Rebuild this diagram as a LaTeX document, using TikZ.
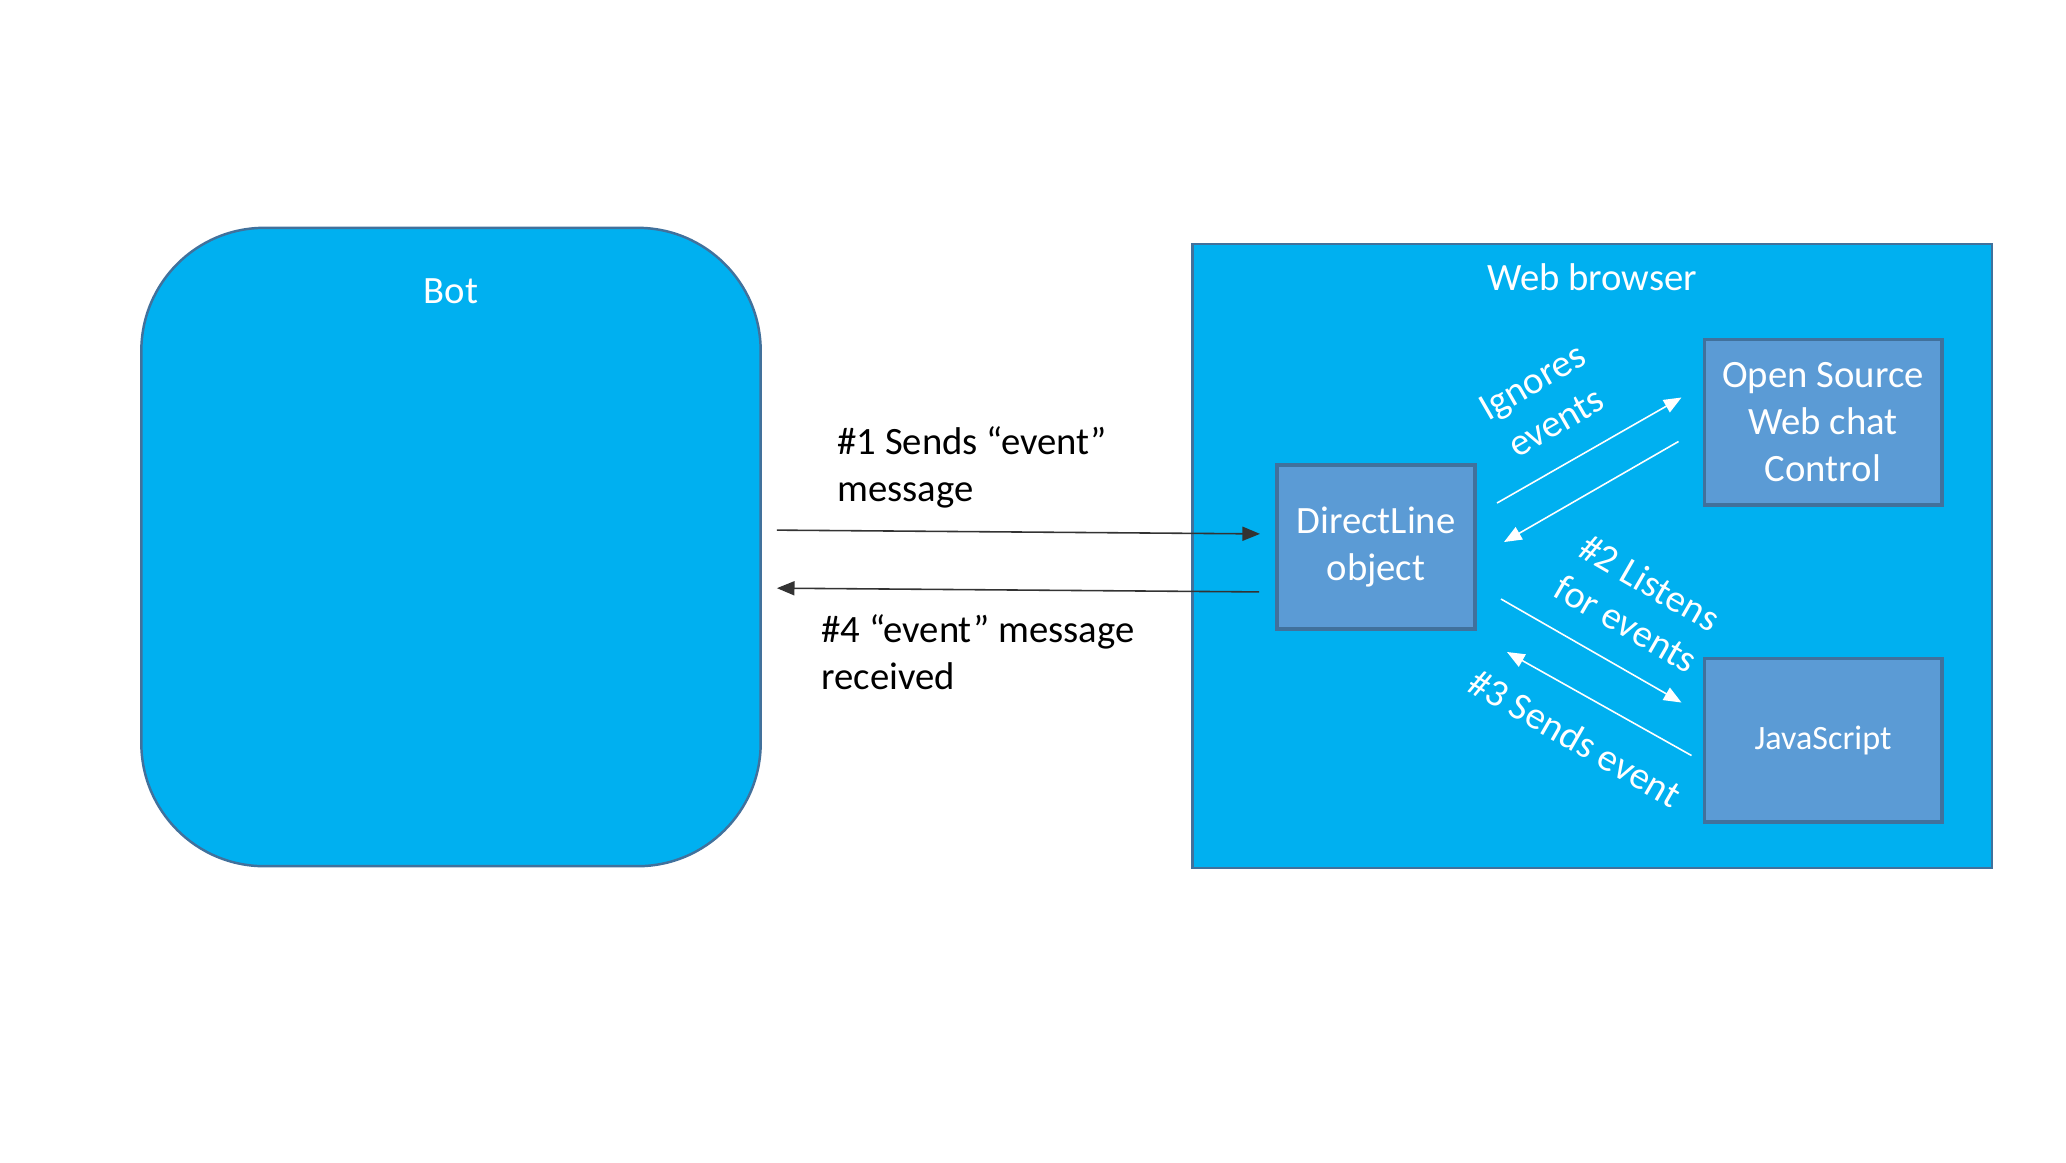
\documentclass[tikz,border=0pt]{standalone}
\usepackage{fontspec}
\setmainfont{Carlito}
\usepackage{xcolor}
\usetikzlibrary{arrows.meta}

\definecolor{skyblue}{HTML}{00B0F0}
\definecolor{edgeblue}{HTML}{41719C}
\definecolor{boxblue}{HTML}{5B9BD5}

\tikzset{
  bigbox/.style={draw=edgeblue, fill=skyblue, line width=0.7pt},
  smallbox/.style={draw=edgeblue, fill=boxblue, line width=1.1pt, text=white,
    align=center, font=\fontsize{11}{13.4}\selectfont},
  title/.style={text=white, font=\fontsize{11}{13.4}\selectfont},
  msg/.style={-{Triangle[length=5pt,width=4pt]}, line width=0.45pt, black!80},
  wmsg/.style={-{Triangle[length=5pt,width=4pt]}, line width=0.45pt, white},
  msgtext/.style={align=left, font=\fontsize{11}{13.4}\selectfont},
  wtext/.style={align=center, text=white, font=\fontsize{11}{13.4}\selectfont},
}

\begin{document}
\begin{tikzpicture}[x=0.01cm, y=-0.01cm]
  \path[fill=white, use as bounding box] (0,0) rectangle (2066,1162);

  % outer boxes
  \node[bigbox, rounded corners=1.23cm, minimum width=6.19cm, minimum height=6.38cm] (bot) at (451,547) {};
  \node[title] (bottitle) at (451,291) {Bot};
  \node[bigbox, minimum width=7.99cm, minimum height=6.24cm] (browser) at (1592,556) {};
  \node[title] (browsertitle) at (1592,277) {Web browser};

  % inner boxes
  \node[smallbox, minimum width=1.98cm, minimum height=1.64cm] (directline) at (1376,547) {DirectLine\\object};
  \node[smallbox, minimum width=2.37cm, minimum height=1.65cm] (webchat) at (1823,422) {Open Source\\Web chat\\Control};
  \node[smallbox, minimum width=2.37cm, minimum height=1.63cm, font=\fontsize{9.7}{11.8}\selectfont] (js) at (1823,740) {JavaScript};

  % bot <-> directline
  \draw[msg, shorten <=0.15cm, shorten >=0.15cm] ([yshift=0.17cm]bot.east) -- ([yshift=0.13cm]directline.west);
  \draw[msg, shorten <=0.16cm, shorten >=0.15cm] ([yshift=-0.45cm]directline.west) -- ([yshift=-0.41cm]bot.east);
  \node[msgtext, anchor=west] (sendlabel) at (825,467) {\#1 Sends “event”\\message};
  \node[msgtext, anchor=west] (recvlabel) at (809,652) {\#4 “event” message\\received};

  % inside the browser
  \draw[wmsg] ([shift={(20,40)}]directline.north east) -- ([shift={(-21,-109)}]webchat.south west);
  \draw[wmsg] ([shift={(-24,-65)}]webchat.south west) -- ([shift={(27,79)}]directline.north east);
  \draw[wmsg] ([shift={(24,-32)}]directline.south east) -- ([shift={(-21,46)}]js.north west);
  \draw[wmsg] ([shift={(-11,99)}]js.north west) -- ([shift={(30,21)}]directline.south east);
  \node[wtext, rotate=30] (ignorelabel) at (1544,402) {Ignores\\events};
  \node[wtext, rotate=-30] (listenlabel) at (1638,603) {\#2 Listens\\for events};
  \node[wtext, rotate=-30] (jslabel) at (1575,738) {\#3 Sends event};
\end{tikzpicture}
\end{document}
